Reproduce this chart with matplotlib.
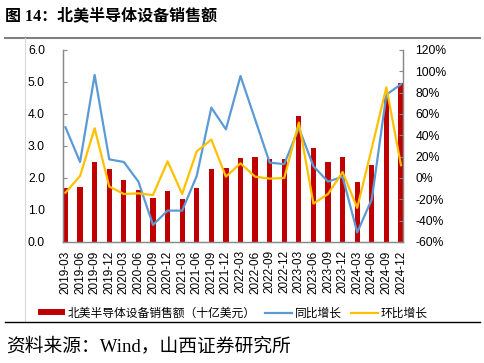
import matplotlib
matplotlib.use('Agg')
import matplotlib.pyplot as plt
import matplotlib.ticker as mticker
from matplotlib.lines import Line2D
import numpy as np

CJK = ['Noto Sans CJK SC', 'DejaVu Sans']
NUM = ['Liberation Sans', 'Noto Sans CJK SC']
SERIF_CJK = ['Liberation Serif', 'Noto Sans CJK SC']

quarters = ['2019-03', '2019-06', '2019-09', '2019-12',
            '2020-03', '2020-06', '2020-09', '2020-12',
            '2021-03', '2021-06', '2021-09', '2021-12',
            '2022-03', '2022-06', '2022-09', '2022-12',
            '2023-03', '2023-06', '2023-09', '2023-12',
            '2024-03', '2024-06', '2024-09', '2024-12']

# North America semiconductor equipment sales, billion USD
sales = [1.68, 1.71, 2.50, 2.27, 1.93, 1.64, 1.375, 1.58,
         1.33, 1.69, 2.29, 2.31, 2.61, 2.65, 2.60, 2.60,
         3.94, 2.95, 2.49, 2.65, 1.89, 2.40, 4.54, 4.98]

# year-over-year growth, %
yoy = [47.5, 15, 96.6, 17.5, 15, -3.4, -44, -30.6,
       -30.6, 2, 66, 45.6, 95.6, 55, 14.4, 13,
       47, 11, -3.4, 1.2, -51, -20, 78, 88]

# quarter-over-quarter growth, %
qoq = [-13.75, 1.9, 46.6, -8, -15, -14.4, -16, 15.6,
       -15, 25, 36, 1.25, 13.75, 1.25, -0.6, 0,
       52, -24, -15, 5.6, -28, 28, 85, 12]

RED = '#C00000'
BLUE = '#5B9BD5'
YELLOW = '#FFC000'
SPINE = '#898989'

W, H = 485, 363
fig = plt.figure(figsize=(W / 100, H / 100), dpi=100)

ax = fig.add_axes([63 / W, 1 - 242 / H, 340 / W, 192 / H])
ax2 = ax.twinx()

x = np.arange(len(quarters))
bars = ax.bar(x, sales, width=0.36, color=RED, zorder=2)
l1, = ax2.plot(x, yoy, color=BLUE, lw=1.6, zorder=3)
l2, = ax2.plot(x, qoq, color=YELLOW, lw=1.6, zorder=4)

ax.set_xlim(-0.17, len(quarters) - 1 + 0.14)
ax.set_ylim(0, 6)
ax2.set_ylim(-60, 120)
ax.yaxis.set_major_locator(mticker.MultipleLocator(1))
ax.yaxis.set_major_formatter(mticker.FormatStrFormatter('%.1f'))
ax2.yaxis.set_major_locator(mticker.MultipleLocator(20))
ax2.yaxis.set_major_formatter(mticker.FormatStrFormatter('%d%%'))

ax.set_xticks(x)
ax.set_xticklabels(quarters, rotation=90, fontsize=8.5, family=NUM)
ax.tick_params(axis='x', length=0, pad=6)
ax.tick_params(axis='y', direction='in', length=3, color=SPINE, pad=13,
               labelsize=8.7)
ax2.tick_params(axis='y', direction='in', length=3, color=SPINE, pad=9,
                labelsize=8.7)
for t in ax.get_yticklabels() + ax2.get_yticklabels():
    t.set_family(NUM)

for a in (ax, ax2):
    a.spines['top'].set_visible(False)
    for s in ('left', 'right', 'bottom'):
        a.spines[s].set_color(SPINE)
        a.spines[s].set_linewidth(0.9)

leg = fig.legend([bars, l1, l2],
                 ['北美半导体设备销售额（十亿美元）', '同比增长', '环比增长'],
                 loc='center', bbox_to_anchor=(233 / W, 1 - 313 / H),
                 ncol=3, frameon=False, handlelength=2.3, handleheight=0.45,
                 handletextpad=0.2, columnspacing=0.8,
                 prop={'family': CJK, 'size': 8.5})

# report frame lines
fig.add_artist(Line2D([5 / W, 480 / W], [1 - 38 / H, 1 - 38 / H],
                      color='#808080', lw=1.5))
fig.add_artist(Line2D([25 / W, 25 / W], [1 - 38 / H, 1 - 322 / H],
                      color='#D9D9D9', lw=0.8))
fig.add_artist(Line2D([5 / W, 480 / W], [1 - 322 / H, 1 - 322 / H],
                      color='black', lw=1.0))

fig.text(5 / W, 1 - 16 / H, '图 14：北美半导体设备销售额', ha='left', va='center',
         fontsize=11.5, fontweight='bold', family=SERIF_CJK)
fig.text(6 / W, 1 - 346 / H, '资料来源：Wind，山西证券研究所', ha='left', va='center',
         fontsize=13.5, family=SERIF_CJK)

fig.savefig('out.png', dpi=100)
